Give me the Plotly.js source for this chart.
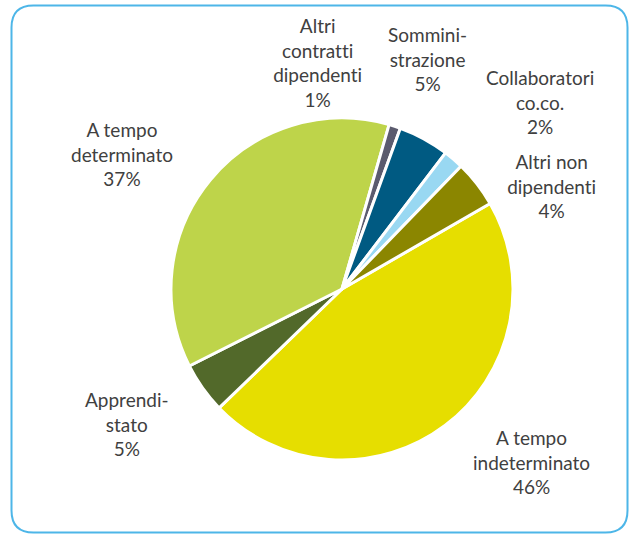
<!DOCTYPE html>
<html>
<head>
<meta charset="utf-8">
<script src="https://cdn.plot.ly/plotly-3.0.1.min.js"></script>
<style>
  html, body { margin: 0; padding: 0; background: #ffffff; }
  #chart { width: 634px; height: 536px; }
  #chart text { font-variant-ligatures: none; font-feature-settings: "liga" 0, "clig" 0; }
</style>
</head>
<body>
<div id="chart"></div>
<script>
// ---- data ----
var categories = [
  "A tempo indeterminato",
  "Apprendistato",
  "A tempo determinato",
  "Altri contratti dipendenti",
  "Somministrazione",
  "Collaboratori co.co.",
  "Altri non dipendenti"
];
var displayLabels = [
  "A tempo<br>indeterminato",
  "Apprendi-<br>stato",
  "A tempo<br>determinato",
  "Altri<br>contratti<br>dipendenti",
  "Sommini-<br>strazione",
  "Collaboratori<br>co.co.",
  "Altri non<br>dipendenti"
];
var values = [46.0, 4.8, 36.8, 1.1, 4.8, 1.9, 4.4];
var colors = ["#E6DE00", "#52692A", "#BED44A", "#5B5B6E", "#005A82", "#99D8F2", "#8B8600"];

// ---- styling / layout ----
var W = 634, H = 536;
var labelPos = [ // pixel centers of the label blocks
  [531, 462], [127, 424], [122, 154], [317, 62], [427, 59], [540, 102], [551, 186]
];
var total = values.reduce(function (a, b) { return a + b; }, 0);
var annotations = categories.map(function (c, i) {
  var pct = Math.round(values[i] / total * 100);
  return {
    xref: "paper", yref: "paper",
    x: labelPos[i][0] / W, y: 1 - labelPos[i][1] / H,
    xanchor: "center", yanchor: "middle",
    showarrow: false, align: "center",
    text: displayLabels[i] + "<br>" + pct + "%",
    font: { family: "Lato, 'Open Sans', sans-serif", size: 19, color: "#404040" }
  };
});

function px(x) { return (x / W).toFixed(5); }
function py(y) { return (1 - y / H).toFixed(5); }
var L = 11.5, R = 627.5, T = 5.5, B = 532.5, r = 22;
var path = "M " + px(L + r) + "," + py(T) +
  " L " + px(R - r) + "," + py(T) +
  " Q " + px(R) + "," + py(T) + " " + px(R) + "," + py(T + r) +
  " L " + px(R) + "," + py(B - r) +
  " Q " + px(R) + "," + py(B) + " " + px(R - r) + "," + py(B) +
  " L " + px(L + r) + "," + py(B) +
  " Q " + px(L) + "," + py(B) + " " + px(L) + "," + py(B - r) +
  " L " + px(L) + "," + py(T + r) +
  " Q " + px(L) + "," + py(T) + " " + px(L + r) + "," + py(T) + " Z";

var cx = 342, cy = 289, rad = 171;
var trace = {
  type: "pie",
  labels: categories,
  values: values,
  sort: false,
  direction: "clockwise",
  rotation: 60,
  textinfo: "none",
  hoverinfo: "label+percent",
  marker: { colors: colors, line: { color: "#ffffff", width: 3 } },
  domain: {
    x: [(cx - rad) / W, (cx + rad) / W],
    y: [1 - (cy + rad) / H, 1 - (cy - rad) / H]
  }
};

var layout = {
  width: W, height: H,
  margin: { l: 0, r: 0, t: 0, b: 0 },
  paper_bgcolor: "#ffffff",
  showlegend: false,
  annotations: annotations,
  shapes: [{
    type: "path", xref: "paper", yref: "paper", path: path,
    line: { color: "#4DB6E8", width: 2 }, fillcolor: "rgba(0,0,0,0)", layer: "below"
  }]
};

Plotly.newPlot("chart", [trace], layout, { displayModeBar: false, staticPlot: true });
</script>
</body>
</html>
